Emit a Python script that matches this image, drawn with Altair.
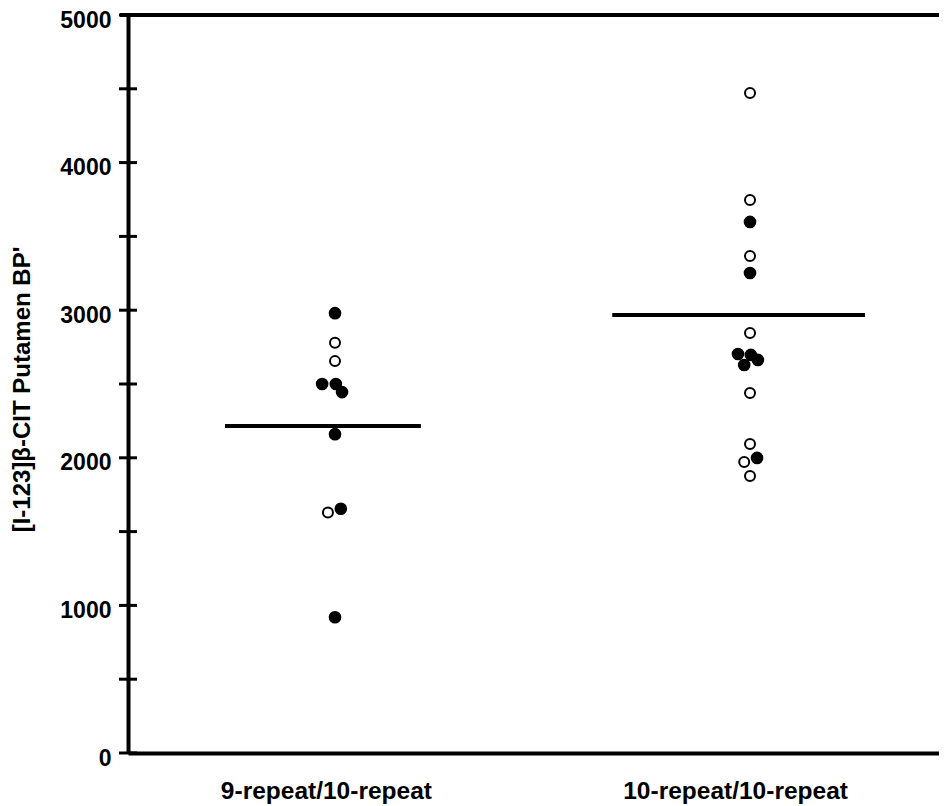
import altair as alt
import pandas as pd

# ---- data ----
groups = ["9-repeat/10-repeat", "10-repeat/10-repeat"]

g1_values = [2980, 2780, 2655, 2500, 2500, 2445, 2160, 1630, 1655, 920]
g1_filled = [True, False, False, True, True, True, True, False, True, True]
g1_jitter = [0.0, 0.0, 0.0, -0.031, 0.002, 0.017, 0.0, -0.017, 0.014, 0.0]

g2_values = [4472, 3747, 3598, 3367, 3252, 2846, 2703, 2697, 2663, 2629,
             2439, 2093, 1999, 1972, 1877]
g2_filled = [False, False, True, False, True, False, True, True, True, True,
             False, False, True, False, False]
g2_jitter = [0.0, 0.0, 0.0, 0.0, 0.0, 0.0, -0.029, 0.002, 0.019, -0.014,
             0.0, 0.0, 0.017, -0.014, 0.0]

group_lines = [2215, 2967]          # horizontal bar per group
line_start = [0.735, 1.668]
line_end = [1.207, 2.277]
label_pos = [0.978, 1.964]

y_ticks = list(range(0, 5001, 500))
y_labels = list(range(0, 5001, 1000))

rows = []
for gi, (vals, fl, jit) in enumerate([(g1_values, g1_filled, g1_jitter),
                                      (g2_values, g2_filled, g2_jitter)]):
    for v, f, j in zip(vals, fl, jit):
        rows.append({"group": groups[gi], "x": gi + 1 + j, "value": v,
                     "kind": "filled" if f else "open"})
pts = pd.DataFrame(rows)
lines = pd.DataFrame({"x": line_start, "x2": line_end, "value": group_lines})
ticks = pd.DataFrame({"value": y_ticks})

FONT = "Liberation Sans"
xdom = [0.5012, 2.4554]
xscale = alt.Scale(domain=xdom, nice=False, zero=False)
yscale = alt.Scale(domain=[0, 5000], nice=False)

label_expr = ("datum.value < 1.5 ? '%s' : '%s'" % (groups[0], groups[1]))

base_x = alt.X("x:Q", scale=xscale,
               axis=alt.Axis(values=label_pos, labelExpr=label_expr, ticks=False,
                             grid=False, domainWidth=4, domainColor="black",
                             labelFont=FONT, labelFontSize=24.5, labelFontWeight="bold",
                             labelColor="black", labelPadding=26, title=None,
                             labelFlush=False, labelLimit=0, labelOverlap=False))
base_y = alt.Y("value:Q", scale=yscale,
               axis=alt.Axis(values=y_labels, ticks=False, grid=False, format="d",
                             domainWidth=4, domainColor="black",
                             labelFont=FONT, labelFontSize=23, labelFontWeight="bold",
                             labelColor="black", labelPadding=17, labelOffset=5,
                             labelLimit=0, labelFlush=False, labelOverlap=False,
                             title="[I-123]β-CIT Putamen BP'",
                             titleFont=FONT, titleFontSize=24, titleFontWeight="bold",
                             titleColor="black", titleAngle=-90, titleX=-106,
                             titleY=374, titleAlign="center", titleBaseline="middle"))

points_filled = alt.Chart(pts).transform_filter(alt.datum.kind == "filled").mark_circle(
    size=160, color="black", opacity=1
).encode(x=base_x, y=base_y)

points_open = alt.Chart(pts).transform_filter(alt.datum.kind == "open").mark_point(
    shape="circle", size=100, stroke="black", strokeWidth=2, fill="white", filled=False,
    opacity=1
).encode(x=alt.X("x:Q", scale=xscale), y=alt.Y("value:Q", scale=yscale))

mean_lines = alt.Chart(lines).mark_rule(color="black", strokeWidth=4).encode(
    x=alt.X("x:Q", scale=xscale), x2="x2:Q", y=alt.Y("value:Q", scale=yscale)
)

tick_rules = alt.Chart(ticks).mark_rule(color="black", strokeWidth=3).encode(
    y=alt.Y("value:Q", scale=yscale), x=alt.value(-9), x2=alt.value(9)
)

top_line = alt.Chart(pd.DataFrame({"value": [5000]})).mark_rule(
    color="black", strokeWidth=4).encode(
    y=alt.Y("value:Q", scale=yscale), x=alt.value(-8), x2=alt.value(811)
)

chart = alt.layer(points_filled, mean_lines, points_open, tick_rules, top_line).properties(
    width=811, height=738,
    autosize=alt.AutoSizeParams(type="none"),
    padding={"left": 120, "top": 7, "right": 0, "bottom": 52},
).configure_view(stroke=None).configure(background="white")

chart.save("out.html", embed_options={"renderer": "svg", "actions": False})
